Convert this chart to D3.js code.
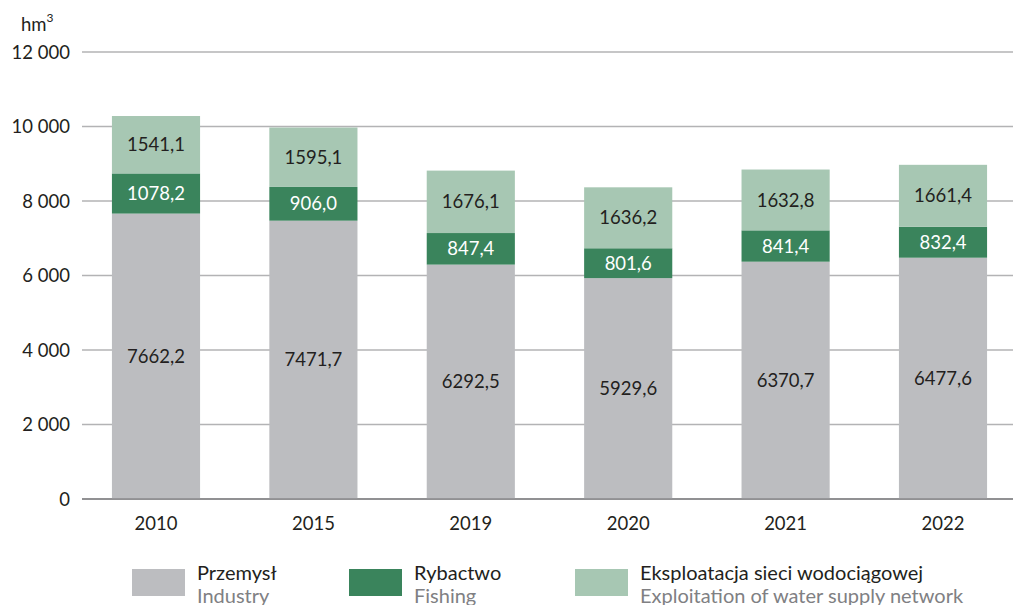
<!DOCTYPE html>
<html>
<head>
<meta charset="utf-8">
<script src="https://d3js.org/d3.v7.min.js"></script>
<style>
  body { margin: 0; background: #fff; }
  svg text { font-family: Lato, "Open Sans", sans-serif; fill: #231f20; }
</style>
</head>
<body>
<div id="chart"></div>
<script>
// data
var years = ["2010", "2015", "2019", "2020", "2021", "2022"];
var industry = [7662.2, 7471.7, 6292.5, 5929.6, 6370.7, 6477.6];
var fishing = [1078.2, 906.0, 847.4, 801.6, 841.4, 832.4];
var waterNet = [1541.1, 1595.1, 1676.1, 1636.2, 1632.8, 1661.4];
var yTicks = [0, 2000, 4000, 6000, 8000, 10000, 12000];

var seriesNames = [
    { pl: "Przemysł", en: "Industry", color: "#bcbdc0", text: "#231f20" },
    { pl: "Rybactwo", en: "Fishing", color: "#3a845c", text: "#ffffff" },
    { pl: "Eksploatacja sieci wodociągowej", en: "Exploitation of water supply network", color: "#a7c7b3", text: "#231f20" }
];
var seriesValues = [industry, fishing, waterNet];

var w = 1013, h = 605;
var fs = "18.5px";
var svg = d3.select("#chart").append("svg").attr("width", w).attr("height", h);

var y = d3.scaleLinear().domain([0, 12000]).range([499, 52]);
var x = d3.scaleBand().domain(years).range([77.3, 1021.7]).paddingInner(0.44).paddingOuter(0.22);

// gridlines
svg.selectAll("line.grid").data(yTicks).enter().append("line")
    .attr("x1", 82).attr("x2", w)
    .attr("y1", function(d) { return y(d); })
    .attr("y2", function(d) { return y(d); })
    .attr("stroke", function(d) { return d === 0 ? "#8a8a8d" : "#b3b3b5"; })
    .attr("stroke-width", 1.4);

// y labels
svg.selectAll("text.ytick").data(yTicks).enter().append("text")
    .attr("x", 70)
    .attr("y", function(d) { return y(d); })
    .attr("dy", "0.36em")
    .attr("text-anchor", "end")
    .style("font-size", fs)
    .text(function(d) { return d3.format(",")(d).replace(/,/g, " "); });

var unit = svg.append("text").attr("x", 21).attr("y", 31).style("font-size", fs).text("hm");
unit.append("tspan").attr("dy", -9).style("font-size", "12px").text("3");

// stacked bars
var rows = years.map(function(yr, i) {
    return { year: yr, s0: industry[i], s1: fishing[i], s2: waterNet[i] };
});
var stack = d3.stack().keys(["s0", "s1", "s2"])(rows);

stack.forEach(function(layer, k) {
    var g = svg.append("g");
    g.selectAll("rect").data(layer).enter().append("rect")
        .attr("x", function(d) { return x(d.data.year); })
        .attr("width", x.bandwidth())
        .attr("y", function(d) { return y(d[1]); })
        .attr("height", function(d) { return y(d[0]) - y(d[1]); })
        .attr("fill", seriesNames[k].color);
    g.selectAll("text").data(layer).enter().append("text")
        .attr("x", function(d) { return x(d.data.year) + x.bandwidth() / 2; })
        .attr("y", function(d) { return (y(d[0]) + y(d[1])) / 2; })
        .attr("dy", "0.36em")
        .attr("text-anchor", "middle")
        .style("font-size", fs)
        .style("fill", seriesNames[k].text)
        .text(function(d, i) { return seriesValues[k][i].toFixed(1).replace(".", ","); });
});

// zero line on top
svg.append("line").attr("x1", 82).attr("x2", w).attr("y1", y(0)).attr("y2", y(0))
    .attr("stroke", "#8a8a8d").attr("stroke-width", 1.4);

// x labels
svg.selectAll("text.xtick").data(years).enter().append("text")
    .attr("x", function(d) { return x(d) + x.bandwidth() / 2; })
    .attr("y", 530)
    .attr("text-anchor", "middle")
    .style("font-size", fs)
    .text(function(d) { return d; });

// legend
var legX = [132, 349, 575];
seriesNames.forEach(function(s, i) {
    svg.append("rect").attr("x", legX[i]).attr("y", 569).attr("width", 53).attr("height", 27).attr("fill", s.color);
    svg.append("text").attr("x", legX[i] + 65).attr("y", 580).style("font-size", "20px").text(s.pl);
    svg.append("text").attr("x", legX[i] + 65).attr("y", 603).style("font-size", "20px").style("fill", "#808083").text(s.en);
});
</script>
</body>
</html>
